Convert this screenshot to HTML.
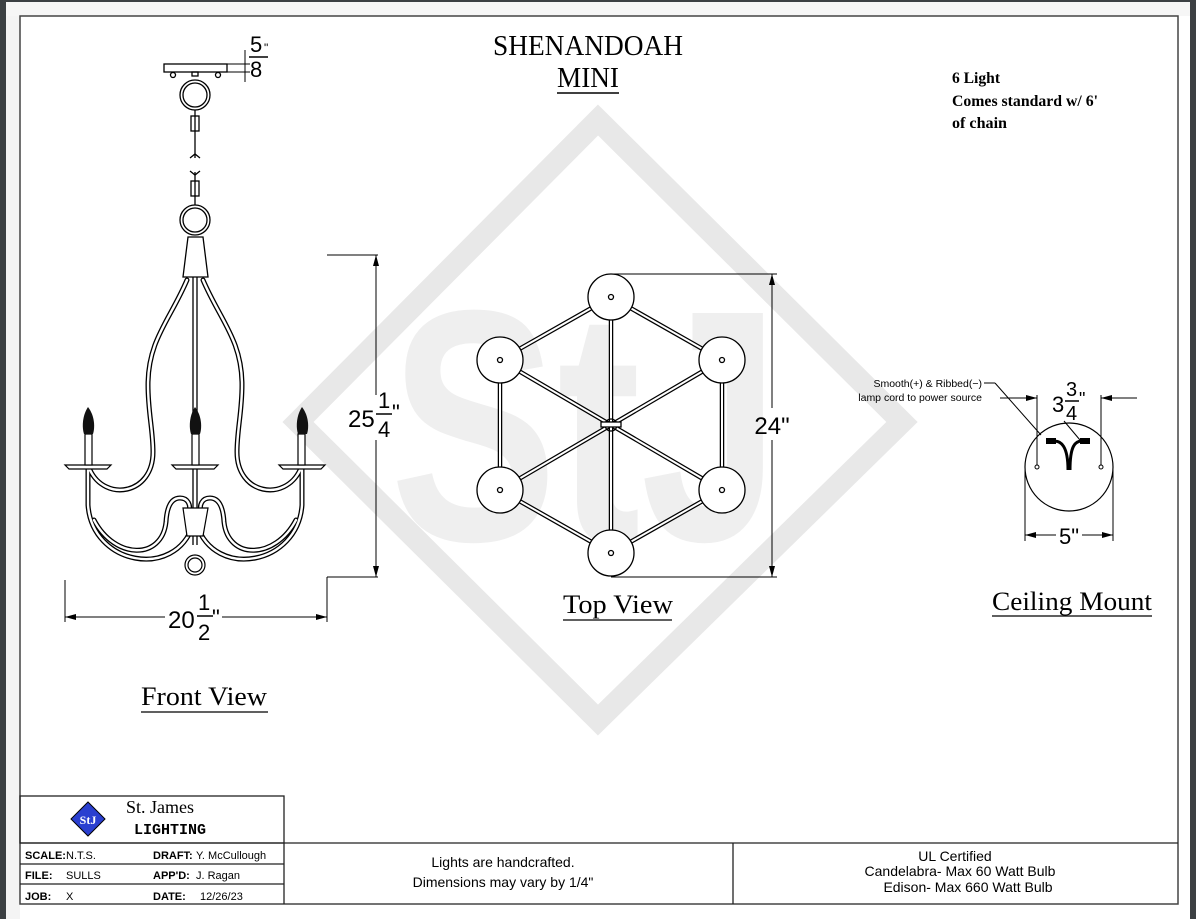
<!DOCTYPE html>
<html><head><meta charset="utf-8"><style>
html,body{margin:0;padding:0;background:#3c4043;}
body{width:1196px;height:919px;overflow:hidden;position:relative;}
svg{position:absolute;left:0;top:0;}
</style></head><body>
<svg width="1196" height="919" viewBox="0 0 1196 919" xmlns="http://www.w3.org/2000/svg">
<rect x="0" y="0" width="1196" height="919" fill="#3c4043"/>
<rect x="6" y="2" width="1184" height="917" fill="#fff"/>
<rect x="6" y="2" width="14" height="917" fill="#f4f4f4"/>
<rect x="6" y="2" width="1184" height="14" fill="#f6f6f6"/>
<rect x="20" y="16" width="1158" height="888" fill="#fff" stroke="#444" stroke-width="1.5"/>

<!-- watermark -->
<polygon points="598,120 902,422 598,720 298,422" fill="none" stroke="#e8e8e8" stroke-width="22"/>
<text x="390" y="540" font-family="Liberation Sans, sans-serif" font-weight="bold" font-size="330" fill="#efefef" textLength="390" lengthAdjust="spacingAndGlyphs">StJ</text>

<!-- title -->
<text x="588" y="55" text-anchor="middle" font-family="Liberation Serif, serif" font-size="29" textLength="190" lengthAdjust="spacingAndGlyphs">SHENANDOAH</text>
<text x="588" y="87" text-anchor="middle" font-family="Liberation Serif, serif" font-size="29" textLength="62" lengthAdjust="spacingAndGlyphs">MINI</text>
<line x1="557" y1="93" x2="619" y2="93" stroke="#000" stroke-width="1.5"/>
<g font-family="Liberation Serif, serif" font-weight="bold" font-size="16">
<text x="952" y="83" textLength="48" lengthAdjust="spacingAndGlyphs">6 Light</text>
<text x="952" y="106" textLength="146" lengthAdjust="spacingAndGlyphs">Comes standard w/ 6'</text>
<text x="952" y="128" textLength="55" lengthAdjust="spacingAndGlyphs">of chain</text>
</g>

<!-- front view -->
<g fill="none" stroke="#000" stroke-width="1.3">
<rect x="164" y="64" width="63" height="8" fill="#fff"/>
<circle cx="173" cy="75" r="2.5"/><circle cx="218" cy="75" r="2.5"/>
<rect x="192" y="72" width="6" height="4"/>
<circle cx="195" cy="95" r="15"/><circle cx="195" cy="95" r="12"/>
<line x1="195" y1="110" x2="195" y2="158"/>
<rect x="191" y="116" width="8" height="15"/>
<path d="M190,158 L195,154 L200,158"/>
<path d="M190,171 L195,175 L200,171"/>
<line x1="195" y1="172" x2="195" y2="205"/>
<rect x="191" y="181" width="8" height="15"/>
<circle cx="195" cy="220" r="15"/><circle cx="195" cy="220" r="12"/>
<polygon points="188,237 203,237 208,277 183,277" fill="#fff"/>
<line x1="193" y1="277" x2="193" y2="545"/><line x1="197" y1="277" x2="197" y2="545"/>
</g>
<g fill="none" stroke-linecap="round">
<g stroke="#000" stroke-width="5">
<path d="M187,280 C170,320 148,340 148,385 C148,412 153,430 153,452 C153,495 105,502 90,470"/>
<path d="M203,280 C220,320 242,340 242,385 C242,412 237,430 237,452 C237,495 285,502 300,470"/>
<path d="M88,468 L88,505 C92,565 175,580 193,525"/>
<path d="M302,468 L302,505 C298,565 215,580 197,525"/>
<path d="M94,520 C115,560 162,560 166,522 C167,505 172,498 180,498 C188,498 191,505 189,512"/>
<path d="M296,520 C275,560 228,560 224,522 C223,505 218,498 210,498 C202,498 199,505 201,512"/>
</g>
<g stroke="#fff" stroke-width="2.4">
<path d="M187,280 C170,320 148,340 148,385 C148,412 153,430 153,452 C153,495 105,502 90,470"/>
<path d="M203,280 C220,320 242,340 242,385 C242,412 237,430 237,452 C237,495 285,502 300,470"/>
<path d="M88,468 L88,505 C92,565 175,580 193,525"/>
<path d="M302,468 L302,505 C298,565 215,580 197,525"/>
<path d="M94,520 C115,560 162,560 166,522 C167,505 172,498 180,498 C188,498 191,505 189,512"/>
<path d="M296,520 C275,560 228,560 224,522 C223,505 218,498 210,498 C202,498 199,505 201,512"/>
</g>
</g>
<g fill="none" stroke="#000" stroke-width="1.2">
<polygon points="183,508 208,508 203,536 187,536" fill="#fff"/>
<circle cx="195" cy="565" r="10" fill="#fff"/><circle cx="195" cy="565" r="7"/>
<path d="M65,465 L111,465 L107,469 L69,469 Z" fill="#fff"/>
<path d="M172,465 L218,465 L214,469 L176,469 Z" fill="#fff"/>
<path d="M279,465 L325,465 L321,469 L283,469 Z" fill="#fff"/>
<rect x="85" y="434" width="7" height="31" fill="#fff"/>
<rect x="192" y="434" width="7" height="31" fill="#fff"/>
<rect x="298" y="434" width="7" height="31" fill="#fff"/>
</g>
<g fill="#111">
<path d="M88,407 C82,416 82,428 84,434 L93,434 C95,428 95,416 88,407 Z"/>
<path d="M195,407 C189,416 189,428 191,434 L200,434 C202,428 202,416 195,407 Z"/>
<path d="M302,407 C296,416 296,428 298,434 L307,434 C309,428 309,416 302,407 Z"/>
</g>

<!-- front dims -->
<g stroke="#000" stroke-width="1" fill="none">
<line x1="227" y1="72" x2="250" y2="72"/><line x1="227" y1="64" x2="250" y2="64"/>
<line x1="245" y1="50" x2="245" y2="82"/>
<line x1="327" y1="255" x2="378" y2="255"/>
<line x1="327" y1="577" x2="378" y2="577"/>
<line x1="376" y1="255" x2="376" y2="395"/><line x1="376" y1="440" x2="376" y2="577"/>
<line x1="327" y1="577" x2="327" y2="622"/>
<line x1="65" y1="580" x2="65" y2="622"/>
<line x1="65" y1="617" x2="165" y2="617"/><line x1="222" y1="617" x2="327" y2="617"/>
</g>
<g fill="#000">
<polygon points="376,255 373,266 379,266"/><polygon points="376,577 373,566 379,566"/>
<polygon points="65,617 76,614 76,620"/><polygon points="327,617 316,614 316,620"/>
</g>
<g font-family="Liberation Sans, sans-serif" fill="#000">
<text x="250" y="52" font-size="22">5</text><text x="264" y="52" font-size="12">"</text>
<line x1="249" y1="57" x2="268" y2="57" stroke="#000" stroke-width="1.5"/>
<text x="250" y="77" font-size="22">8</text>
<text x="348" y="427" font-size="24">25</text>
<text x="378" y="408" font-size="22">1</text>
<line x1="376" y1="414" x2="392" y2="414" stroke="#000" stroke-width="1.5"/>
<text x="378" y="437" font-size="22">4</text>
<text x="392" y="420" font-size="22">"</text>
<text x="168" y="628" font-size="24">20</text>
<text x="198" y="610" font-size="22">1</text>
<line x1="197" y1="616" x2="213" y2="616" stroke="#000" stroke-width="1.5"/>
<text x="198" y="640" font-size="22">2</text>
<text x="212" y="625" font-size="22">"</text>
</g>
<text x="141" y="705" font-family="Liberation Serif, serif" font-size="26" textLength="126" lengthAdjust="spacingAndGlyphs">Front View</text>
<line x1="141" y1="712" x2="268" y2="712" stroke="#000" stroke-width="1.3"/>

<!-- top view -->
<g stroke="#000" stroke-width="4.5" fill="none">
<path d="M611,297 L500,360 L500,490 L611,553 L722,490 L722,360 Z M611,297 L611,553 M500,360 L722,490 M722,360 L500,490"/>
</g>
<g stroke="#fff" stroke-width="2" fill="none">
<path d="M611,297 L500,360 L500,490 L611,553 L722,490 L722,360 Z M611,297 L611,553 M500,360 L722,490 M722,360 L500,490"/>
</g>
<g stroke="#000" stroke-width="1.3" fill="#fff">
<circle cx="611" cy="425" r="6" fill="none"/>
<rect x="601" y="422" width="20" height="5"/>
<circle cx="611" cy="297" r="23"/><circle cx="500" cy="360" r="23"/><circle cx="722" cy="360" r="23"/>
<circle cx="500" cy="490" r="23"/><circle cx="722" cy="490" r="23"/><circle cx="611" cy="553" r="23"/>
<circle cx="611" cy="297" r="2.5"/><circle cx="500" cy="360" r="2.5"/><circle cx="722" cy="360" r="2.5"/>
<circle cx="500" cy="490" r="2.5"/><circle cx="722" cy="490" r="2.5"/><circle cx="611" cy="553" r="2.5"/>
</g>
<g stroke="#000" stroke-width="1">
<line x1="611" y1="274" x2="777" y2="274"/><line x1="611" y1="577" x2="777" y2="577"/>
<line x1="772" y1="274" x2="772" y2="408"/><line x1="772" y1="440" x2="772" y2="577"/>
</g>
<polygon points="772,274 769,285 775,285"/><polygon points="772,577 769,566 775,566"/>
<text x="772" y="434" text-anchor="middle" font-family="Liberation Sans, sans-serif" font-size="24">24"</text>
<text x="563" y="613" font-family="Liberation Serif, serif" font-size="26" textLength="110" lengthAdjust="spacingAndGlyphs">Top View</text>
<line x1="563" y1="620" x2="672" y2="620" stroke="#000" stroke-width="1.3"/>

<!-- ceiling mount -->
<g stroke="#000" stroke-width="1" fill="none">
<circle cx="1069" cy="467" r="44" stroke-width="1.2"/>
<circle cx="1037" cy="467" r="2"/><circle cx="1101" cy="467" r="2"/>
<line x1="1037" y1="395" x2="1037" y2="465"/><line x1="1101" y1="395" x2="1101" y2="465"/>
<line x1="1000" y1="398" x2="1037" y2="398"/><line x1="1101" y1="398" x2="1137" y2="398"/>
<line x1="1025" y1="470" x2="1025" y2="541"/><line x1="1113" y1="470" x2="1113" y2="541"/>
<line x1="1025" y1="535" x2="1056" y2="535"/><line x1="1082" y1="535" x2="1113" y2="535"/>
<line x1="984" y1="383" x2="995" y2="383"/><line x1="995" y1="383" x2="1041" y2="435"/>
<line x1="1064" y1="421" x2="1080" y2="440"/>
<path d="M1050,442 C1062,438 1068,448 1068,470 M1086,442 C1074,438 1070,448 1070,470" stroke-width="3"/>
</g>
<g fill="#000">
<rect x="1046" y="438" width="10" height="6"/><rect x="1080" y="438" width="10" height="6"/>
<polygon points="1037,398 1026,395 1026,401"/><polygon points="1101,398 1112,395 1112,401"/>
<polygon points="1025,535 1036,532 1036,538"/><polygon points="1113,535 1102,532 1102,538"/>
</g>
<g font-family="Liberation Sans, sans-serif">
<text x="1052" y="412" font-size="22">3</text>
<text x="1066" y="396" font-size="20">3</text>
<line x1="1065" y1="401" x2="1079" y2="401" stroke="#000" stroke-width="1.5"/>
<text x="1066" y="420" font-size="20">4</text>
<text x="1079" y="405" font-size="18">"</text>
<text x="1069" y="544" text-anchor="middle" font-size="22">5"</text>
<text x="982" y="387" text-anchor="end" font-size="10.5">Smooth(+) &amp; Ribbed(−)</text>
<text x="982" y="401" text-anchor="end" font-size="10.5">lamp cord to power source</text>
</g>
<text x="992" y="610" font-family="Liberation Serif, serif" font-size="26" textLength="160" lengthAdjust="spacingAndGlyphs">Ceiling Mount</text>
<line x1="992" y1="616" x2="1152" y2="616" stroke="#000" stroke-width="1.3"/>

<!-- title block -->
<g stroke="#222" stroke-width="1.3" fill="none">
<rect x="20" y="796" width="264" height="47"/>
<line x1="20" y1="843" x2="1178" y2="843"/>
<line x1="20" y1="864" x2="284" y2="864"/>
<line x1="20" y1="884" x2="284" y2="884"/>
<line x1="284" y1="843" x2="284" y2="904"/>
<line x1="733" y1="843" x2="733" y2="904"/>
</g>
<polygon points="88,802 105,819 88,836 71,819" fill="#2a3fd0" stroke="#000" stroke-width="1"/>
<text x="88" y="824" text-anchor="middle" font-family="Liberation Serif, serif" font-size="12" fill="#fff" font-weight="bold">StJ</text>
<text x="126" y="813" font-family="Liberation Serif, serif" font-size="18">St. James</text>
<text x="134" y="834" font-family="Liberation Mono, monospace" font-size="15" font-weight="bold">LIGHTING</text>
<g font-family="Liberation Sans, sans-serif" font-size="11">
<text x="25" y="859" font-weight="bold">SCALE:</text><text x="66" y="859">N.T.S.</text>
<text x="153" y="859" font-weight="bold">DRAFT:</text><text x="196" y="859">Y. McCullough</text>
<text x="25" y="879" font-weight="bold">FILE:</text><text x="66" y="879">SULLS</text>
<text x="153" y="879" font-weight="bold">APP'D:</text><text x="196" y="879">J. Ragan</text>
<text x="25" y="900" font-weight="bold">JOB:</text><text x="66" y="900">X</text>
<text x="153" y="900" font-weight="bold">DATE:</text><text x="200" y="900">12/26/23</text>
</g>
<g font-family="Liberation Sans, sans-serif" font-size="14" text-anchor="middle">
<text x="503" y="867">Lights are handcrafted.</text>
<text x="503" y="887">Dimensions may vary by 1/4"</text>
<text x="955" y="861">UL Certified</text>
<text x="960" y="876">Candelabra- Max 60 Watt Bulb</text>
<text x="968" y="892">Edison- Max 660 Watt Bulb</text>
</g>
</svg>
</body></html>
